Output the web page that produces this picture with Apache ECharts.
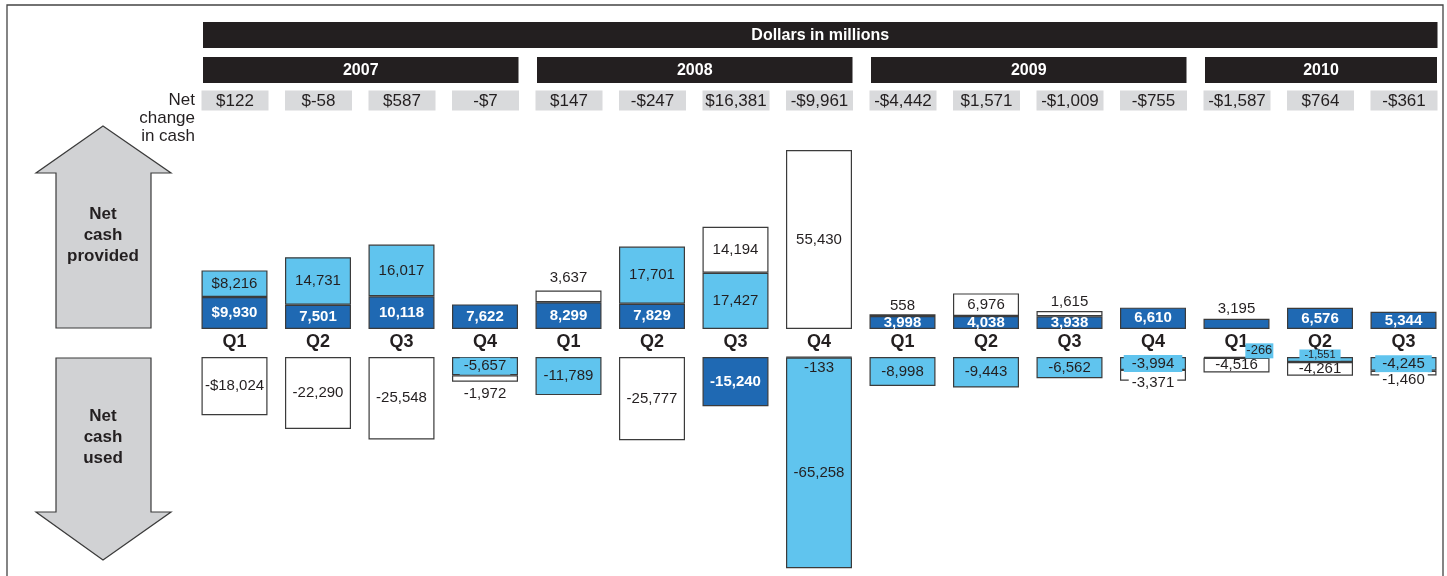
<!DOCTYPE html>
<html>
<head>
<meta charset="utf-8">
<script src="https://cdn.jsdelivr.net/npm/echarts@6/dist/echarts.min.js"></script>
<style>
html, body { margin: 0; padding: 0; background: #fff; }
#cash-chart { width: 1447px; height: 576px; }
</style>
</head>
<body>
<div id="cash-chart"></div>
<script>
// quarterly cash flows, dollars in millions
var quarters = ['Q1', 'Q2', 'Q3', 'Q4', 'Q1', 'Q2', 'Q3', 'Q4', 'Q1', 'Q2', 'Q3', 'Q4', 'Q1', 'Q2', 'Q3'];
var years = ['2007', '2008', '2009', '2010'];
var yearFirstQuarter = [0, 4, 8, 12];
var yearLastQuarter = [3, 7, 11, 14];
var operating = [9930, 7501, 10118, 7622, 8299, 7829, -15240, -133, 3998, 4038, 3938, 6610, 3195, 6576, 5344];
var investing = [8216, 14731, 16017, -5657, -11789, 17701, 17427, -65258, -8998, -9443, -6562, -3994, -266, -1551, -4245];
var financing = [-18024, -22290, -25548, -1972, 3637, -25777, 14194, 55430, 558, 6976, 1615, -3371, -4516, -4261, -1460];
var netChangeLabels = ['$122', '$-58', '$587', '-$7', '$147', '-$247', '$16,381', '-$9,961', '-$4,442', '$1,571', '-$1,009', '-$755', '-$1,587', '$764', '-$361'];

var FONT = '"Liberation Sans", Arial, Helvetica, sans-serif';
var INK = '#231f20';
var DARK = '#1f69b3';
var LIGHT = '#60c4ee';
var BAR_W = 66;

// labels that sit outside their bar in the original
var labelTweaks = {
    'operating-7': { position: 'bottom', distance: 3, color: INK, fontWeight: 'normal' },
    'operating-12': { position: 'top', distance: 2, color: INK, fontWeight: 'normal' },
    'investing-3': { backgroundColor: LIGHT, padding: [1, 4] },
    'investing-7': { offset: [0, 10] },
    'investing-11': { backgroundColor: LIGHT, padding: [1, 8] },
    'investing-12': { position: [56, -6], align: 'center', verticalAlign: 'middle', fontSize: 13, backgroundColor: LIGHT, padding: [1, 1] },
    'investing-13': { position: [33, -2], align: 'center', verticalAlign: 'middle', fontSize: 11, backgroundColor: LIGHT, padding: [0, 5] },
    'investing-14': { backgroundColor: LIGHT, padding: [1, 7] },
    'financing-3': { position: 'bottom', distance: 5 },
    'financing-4': { position: 'top', distance: 5 },
    'financing-8': { position: 'top', distance: 1 },
    'financing-10': { position: 'top', distance: 2 },
    'financing-11': { position: 'bottom', distance: -5, backgroundColor: '#fff', padding: [0, 3] },
    'financing-14': { position: 'bottom', distance: -3, backgroundColor: '#fff', padding: [0, 3] }
};

function fmt(v, idx) {
    return (v < 0 ? '-' : '') + (idx === 0 ? '$' : '') + Math.abs(v).toLocaleString('en-US');
}

function makeSeries(key, values, color, textColor, bold, positive) {
    return {
        name: key,
        type: 'bar',
        stack: positive ? 'pos' : 'neg',
        xAxisIndex: positive ? 0 : 1,
        yAxisIndex: positive ? 0 : 1,
        barWidth: BAR_W,
        itemStyle: { color: color, borderColor: '#3b3b3b', borderWidth: 1.2 },
        label: {
            show: true,
            position: 'inside',
            color: textColor,
            fontFamily: FONT,
            fontSize: 15,
            fontWeight: bold ? 'bold' : 'normal',
            formatter: function (p) { return fmt(p.value, p.dataIndex); }
        },
        data: values.map(function (v, i) {
            var keep = positive ? v > 0 : v < 0;
            if (!keep) return '-';
            var tweak = labelTweaks[key + '-' + i];
            return tweak ? { value: v, label: tweak } : v;
        })
    };
}

function renderYear(params, api) {
    var a = api.coord([api.value(0), 0]);
    var b = api.coord([api.value(1), 0]);
    var x0 = a[0] - BAR_W / 2 + 1.5, x1 = b[0] + BAR_W / 2 + 0.5;
    return {
        type: 'group',
        children: [
            { type: 'rect', shape: { x: x0, y: 57, width: x1 - x0, height: 26 }, style: { fill: INK } },
            { type: 'text', style: { text: years[params.dataIndex], x: (x0 + x1) / 2, y: 70.5, align: 'center', verticalAlign: 'middle', fill: '#fff', fontFamily: FONT, fontSize: 16, fontWeight: 'bold' } }
        ]
    };
}

function renderTitle(params, api) {
    var a = api.coord([api.value(0), 0]);
    var b = api.coord([api.value(1), 0]);
    var x0 = a[0] - BAR_W / 2 + 1.5, x1 = b[0] + BAR_W / 2 + 1;
    return {
        type: 'group',
        children: [
            { type: 'rect', shape: { x: x0, y: 22, width: x1 - x0, height: 26 }, style: { fill: INK } },
            { type: 'text', style: { text: 'Dollars in millions', x: (x0 + x1) / 2, y: 35.5, align: 'center', verticalAlign: 'middle', fill: '#fff', fontFamily: FONT, fontSize: 16, fontWeight: 'bold' } }
        ]
    };
}

function renderNet(params, api) {
    var c = api.coord([api.value(0), 0]);
    var x0 = c[0] - BAR_W / 2;
    return {
        type: 'group',
        children: [
            { type: 'rect', shape: { x: x0, y: 90.5, width: BAR_W + 1, height: 20 }, style: { fill: '#d9dadc' } },
            { type: 'text', style: { text: netChangeLabels[params.dataIndex], x: c[0] + 0.5, y: 101, align: 'center', verticalAlign: 'middle', fill: INK, fontFamily: FONT, fontSize: 17 } }
        ]
    };
}

var chart = echarts.init(document.getElementById('cash-chart'));

var arrowStyle = { fill: '#d1d2d4', stroke: '#3b3b3b', lineWidth: 1.2 };
var arrowText = { fill: INK, fontFamily: FONT, fontSize: 17, fontWeight: 'bold', align: 'center', lineHeight: 21 };

var option = {
    animation: false,
    backgroundColor: '#fff',
    grid: [
        { left: 192.75, right: 1.75, top: 135.2, height: 193.8, outerBoundsMode: 'none' },
        { left: 192.75, right: 1.75, top: 357, height: 219, outerBoundsMode: 'none' }
    ],
    xAxis: [
        {
            type: 'category', gridIndex: 0, data: quarters,
            axisLine: { show: false }, axisTick: { show: false },
            axisLabel: { color: INK, fontFamily: FONT, fontSize: 18, fontWeight: 'bold', margin: 4, interval: 0 }
        },
        {
            type: 'category', gridIndex: 1, data: quarters, show: false
        }
    ],
    yAxis: [
        { type: 'value', gridIndex: 0, min: 0, max: 60000, show: false },
        { type: 'value', gridIndex: 1, min: -67800, max: 0, show: false }
    ],
    graphic: [
        { type: 'rect', shape: { x: 7, y: 5, width: 1436, height: 600 }, style: { fill: 'none', stroke: '#444', lineWidth: 1.3 } },
        { type: 'polygon', shape: { points: [[103, 126], [171, 173], [151, 173], [151, 328], [56, 328], [56, 173], [36, 173]] }, style: arrowStyle },
        { type: 'polygon', shape: { points: [[56, 358], [151, 358], [151, 512], [171, 512], [103, 560], [36, 512], [56, 512]] }, style: arrowStyle },
        { type: 'text', x: 103, y: 204, style: Object.assign({ text: 'Net\ncash\nprovided' }, arrowText) },
        { type: 'text', x: 103, y: 406, style: Object.assign({ text: 'Net\ncash\nused' }, arrowText) },
        { type: 'text', x: 195, y: 91, style: { text: 'Net\nchange\nin cash', fill: INK, fontFamily: FONT, fontSize: 17, align: 'right', lineHeight: 18 } }
    ],
    series: [
        makeSeries('operating', operating, DARK, '#fff', true, true),
        makeSeries('investing', investing, LIGHT, INK, false, true),
        makeSeries('financing', financing, '#fff', INK, false, true),
        makeSeries('operating', operating, DARK, '#fff', true, false),
        makeSeries('investing', investing, LIGHT, INK, false, false),
        makeSeries('financing', financing, '#fff', INK, false, false),
        {
            type: 'custom', xAxisIndex: 0, yAxisIndex: 0, silent: true,
            renderItem: renderTitle, encode: { x: [0, 1], y: 2 },
            data: [[0, quarters.length - 1, 0]]
        },
        {
            type: 'custom', xAxisIndex: 0, yAxisIndex: 0, silent: true,
            renderItem: renderYear, encode: { x: [0, 1], y: 2 },
            data: years.map(function (y, i) { return [yearFirstQuarter[i], yearLastQuarter[i], 0]; })
        },
        {
            type: 'custom', xAxisIndex: 0, yAxisIndex: 0, silent: true,
            renderItem: renderNet, encode: { x: 0, y: 1 },
            data: quarters.map(function (q, i) { return [i, 0]; })
        }
    ]
};

chart.setOption(option);
window.addEventListener('resize', function () { chart.resize(); });
</script>
</body>
</html>
